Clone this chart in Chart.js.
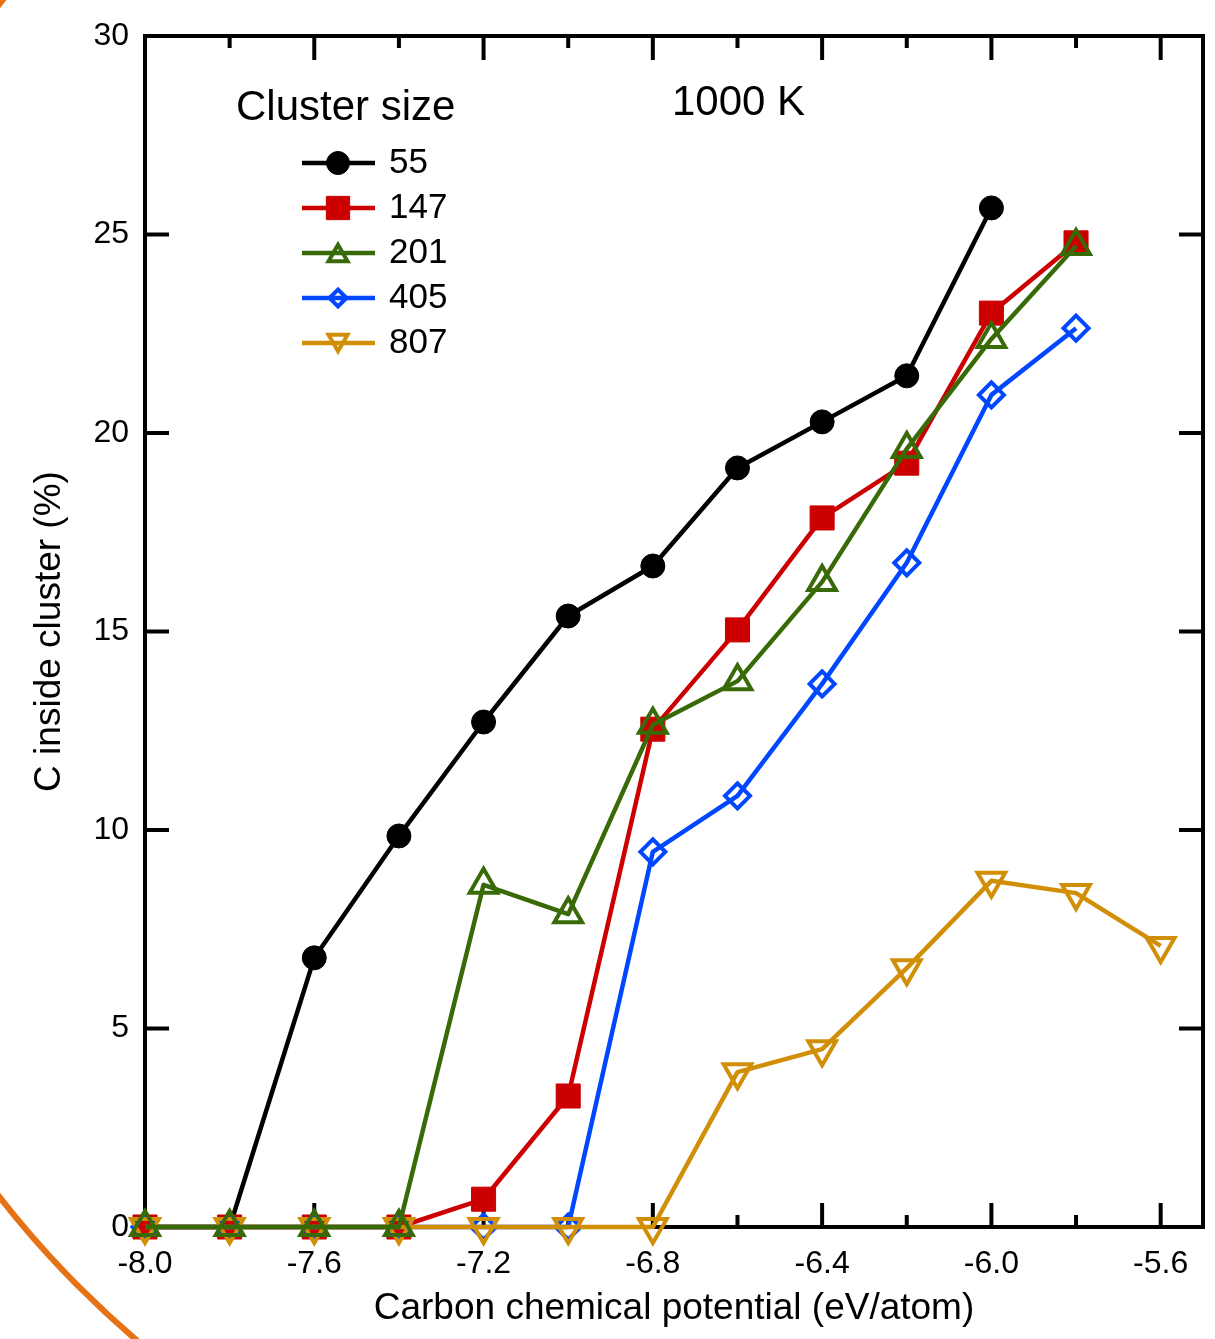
<!DOCTYPE html>
<html>
<head>
<meta charset="utf-8">
<script src="https://cdn.jsdelivr.net/npm/chart.js@4"></script>
<style>
  body{margin:0;background:#fff;}
  #wrap{position:relative;width:1215px;height:1339px;overflow:hidden;background:#fff;}
  #arc{position:absolute;left:-208px;top:-374px;width:1949px;height:1949px;border:6px solid #E57316;border-radius:50%;box-sizing:border-box;}
  #c{position:absolute;left:0;top:0;}
</style>
</head>
<body>
<div id="wrap">
  <div id="arc"></div>
  <canvas id="c" width="1215" height="1339"></canvas>
</div>
<script>
// -------- data --------
const potentials = [-8.0,-7.8,-7.6,-7.4,-7.2,-7.0,-6.8,-6.6,-6.4,-6.2,-6.0,-5.8,-5.6];
const sizes = ["55","147","201","405","807"];
const c55  = [0,0,6.78,9.85,12.72,15.39,16.65,19.12,20.28,21.44,25.67,null,null];
const c147 = [0,0,0,0,0.70,3.30,12.54,15.04,17.86,19.24,23.02,24.79,null];
const c201 = [0,0,0,0,8.62,7.88,12.65,13.75,16.25,19.60,22.37,24.71,null];
const c405 = [0,0,0,0,0,0,9.45,10.86,13.68,16.73,20.96,22.64,null];
const c807 = [0,0,0,0,0,0,0,3.90,4.48,6.52,8.72,8.41,7.08];

const xTicks = [-8.0,-7.6,-7.2,-6.8,-6.4,-6.0,-5.6];
const xMinor = [-7.8,-7.4,-7.0,-6.6,-6.2,-5.8];
const yTicks = [0,5,10,15,20,25,30];

const FONT = "'Liberation Sans', Arial, sans-serif";

function pts(arr){
    return potentials.map((x,i)=>({x:x, y:arr[i]})).filter(p=>p.y!==null);
}

// style per series: color, marker, sizes
const styles = [
  {color:'#000000', style:'circle',   r:12,   rot:0,   fill:true,  lr:11.5},
  {color:'#CC0000', style:'rect',     r:17,   rot:0,   fill:true,  lr:16.5},
  {color:'#386A08', style:'triangle', r:16,   rot:0,   fill:false, lr:11},
  {color:'#0047FF', style:'rectRot',  r:12.5, rot:0,   fill:false, lr:8.5},
  {color:'#D18E07', style:'triangle', r:16,   rot:180, fill:false, lr:11}
];
const seriesData = [c55,c147,c201,c405,c807];
const drawOrder = [4,3,0,2,1]; // green on top, black at back

const datasets = sizes.map((s,i)=>({
    label:s,
    data:pts(seriesData[i]),
    borderColor:styles[i].color,
    backgroundColor:styles[i].color,
    borderWidth:4.5,
    borderJoinStyle:'round',
    pointStyle:styles[i].style,
    pointRadius:styles[i].r,
    pointHoverRadius:styles[i].r,
    pointRotation:styles[i].rot,
    pointBorderColor:styles[i].color,
    pointBackgroundColor:styles[i].fill ? styles[i].color : 'rgba(0,0,0,0)',
    pointBorderWidth:styles[i].fill ? 1 : 4,
    tension:0,
    clip:false,
    order:drawOrder[i]
}));

// -------- frame + inward ticks --------
const framePlugin = {
    id:'frame',
    beforeDatasetsDraw(chart){
        const {ctx, chartArea:a, scales:{x, y}} = chart;
        ctx.save();
        ctx.strokeStyle = '#000';
        ctx.lineWidth = 4;
        ctx.lineCap = 'butt';
        ctx.beginPath();
        xTicks.forEach(v=>{
            const px = x.getPixelForValue(v);
            ctx.moveTo(px, a.bottom); ctx.lineTo(px, a.bottom-24);
            ctx.moveTo(px, a.top);    ctx.lineTo(px, a.top+24);
        });
        xMinor.forEach(v=>{
            const px = x.getPixelForValue(v);
            ctx.moveTo(px, a.bottom); ctx.lineTo(px, a.bottom-12);
            ctx.moveTo(px, a.top);    ctx.lineTo(px, a.top+12);
        });
        yTicks.forEach(v=>{
            const py = y.getPixelForValue(v);
            ctx.moveTo(a.left, py);  ctx.lineTo(a.left+24, py);
            ctx.moveTo(a.right, py); ctx.lineTo(a.right-24, py);
        });
        ctx.stroke();
        ctx.lineJoin = 'miter';
        ctx.strokeRect(a.left, a.top, a.right-a.left, a.bottom-a.top);
        ctx.restore();
    }
};

// -------- legend + annotation --------
const legendPlugin = {
    id:'myLegend',
    afterDraw(chart){
        const ctx = chart.ctx;
        ctx.save();
        ctx.fillStyle = '#000';
        ctx.textBaseline = 'middle';
        ctx.textAlign = 'left';
        ctx.font = '42px ' + FONT;
        ctx.fillText('Cluster size', 236, 108);
        ctx.fillText('1000 K', 672, 103);
        ctx.font = '35px ' + FONT;
        sizes.forEach((s,i)=>{
            const st = styles[i];
            const yy = 163 + i*45;
            ctx.strokeStyle = st.color;
            ctx.lineWidth = 4.5;
            ctx.beginPath();
            ctx.moveTo(302, yy); ctx.lineTo(375, yy);
            ctx.stroke();
            ctx.fillStyle = st.fill ? st.color : 'rgba(0,0,0,0)';
            ctx.lineWidth = st.fill ? 1 : 4;
            const yOff = st.style==='triangle' ? (st.rot ? -st.lr/4 : st.lr/4) : 0;
            if (Chart.helpers && Chart.helpers.drawPoint) {
                Chart.helpers.drawPoint(ctx, {pointStyle:st.style, radius:st.lr, rotation:st.rot, borderWidth:ctx.lineWidth}, 338, yy + yOff);
            }
            ctx.fillStyle = '#000';
            ctx.fillText(s, 389, yy);
        });
        ctx.restore();
    }
};

new Chart(document.getElementById('c'), {
    type:'line',
    data:{datasets:datasets},
    options:{
        responsive:false,
        animation:false,
        devicePixelRatio:1,
        layout:{autoPadding:false, padding:{top:36, right:12, left:0, bottom:0}},
        plugins:{legend:{display:false}, tooltip:{enabled:false}},
        scales:{
            x:{
                type:'linear',
                min:-8.0, max:-5.5,
                afterBuildTicks: s => { s.ticks = xTicks.map(v=>({value:v})); },
                afterFit: s => { s.height = 112; s.paddingLeft = 0; s.paddingRight = 0; },
                grid:{display:false, drawTicks:false},
                border:{display:false},
                ticks:{
                    color:'#000', padding:18, autoSkip:false, maxRotation:0,
                    font:{family:FONT, size:32},
                    callback: v => Number(v).toFixed(1)
                },
                title:{
                    display:true, text:'Carbon chemical potential (eV/atom)', color:'#000',
                    font:{family:FONT, size:37, lineHeight:1.2}, padding:{bottom:8, top:0}
                }
            },
            y:{
                type:'linear',
                min:0, max:30,
                afterBuildTicks: s => { s.ticks = yTicks.map(v=>({value:v})); },
                afterFit: s => { s.width = 145; s.paddingTop = 0; s.paddingBottom = 0; },
                grid:{display:false, drawTicks:false},
                border:{display:false},
                ticks:{
                    color:'#000', padding:16, autoSkip:false,
                    font:{family:FONT, size:32}
                },
                title:{
                    display:true, text:'C inside cluster (%)', color:'#000',
                    font:{family:FONT, size:37, lineHeight:1.2}, padding:{top:28, bottom:0}
                }
            }
        }
    },
    plugins:[framePlugin, legendPlugin]
});
</script>
</body>
</html>
